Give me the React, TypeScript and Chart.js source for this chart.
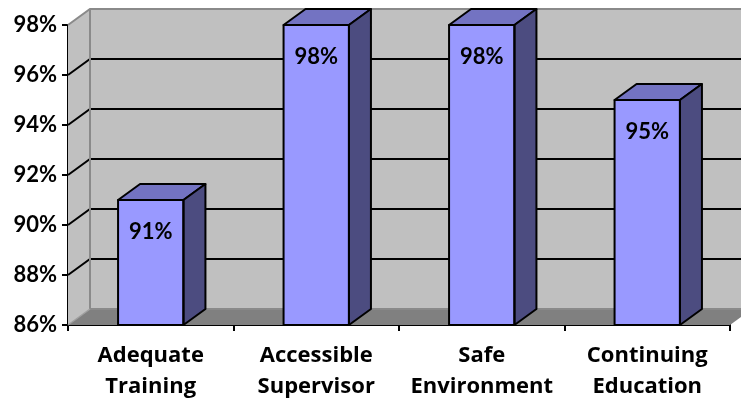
import React, { useEffect, useRef } from "react";
import { Chart, registerables } from "chart.js";

Chart.register(...registerables);

const categories: string[][] = [
  ["Adequate", "Training"],
  ["Accessible", "Supervisor"],
  ["Safe", "Environment"],
  ["Continuing", "Education"],
];
const values: number[] = [91, 98, 98, 95];
const yMin = 86;
const yMax = 98;
const yStep = 2;

const FONT = "Lato, 'Open Sans', sans-serif";
const LABEL_FONT = "'Open Sans', Lato, sans-serif";
// depth offset of the 3D box
const DX = 22;
const DY = -16;

const wallsPlugin = {
  id: "walls3d",
  beforeDatasetsDraw(chart: any) {
    const { ctx, chartArea } = chart;
    const { left: L, right: R, top: T, bottom: B } = chartArea;
    const y = chart.scales.y;
    ctx.save();
    // left side wall
    ctx.fillStyle = "#c0c0c0";
    ctx.beginPath();
    ctx.moveTo(L, T);
    ctx.lineTo(L + DX, T + DY);
    ctx.lineTo(L + DX, B + DY);
    ctx.lineTo(L, B);
    ctx.closePath();
    ctx.fill();
    // back wall
    ctx.fillRect(L + DX, T + DY, R - L + 20, B - T);
    // floor
    ctx.fillStyle = "#808080";
    ctx.beginPath();
    ctx.moveTo(L, B);
    ctx.lineTo(R, B);
    ctx.lineTo(R + DX, B + DY);
    ctx.lineTo(L + DX, B + DY);
    ctx.closePath();
    ctx.fill();
    // gridlines along side wall and back wall
    ctx.strokeStyle = "#000";
    ctx.lineWidth = 2;
    for (let v = yMin + yStep; v < yMax; v += yStep) {
      const py = y.getPixelForValue(v);
      ctx.beginPath();
      ctx.moveTo(L, py);
      ctx.lineTo(L + DX, py + DY);
      ctx.lineTo(R + DX + 20, py + DY);
      ctx.stroke();
    }
    // wall edges
    ctx.strokeStyle = "#8a8a8a";
    ctx.beginPath();
    ctx.moveTo(L, T);
    ctx.lineTo(L + DX, T + DY);
    ctx.lineTo(R + DX + 20, T + DY);
    ctx.moveTo(L + DX, T + DY);
    ctx.lineTo(L + DX, B + DY);
    ctx.lineTo(R + DX + 20, B + DY);
    ctx.stroke();
    ctx.strokeStyle = "#a0a0a0";
    ctx.lineWidth = 1.5;
    ctx.beginPath();
    ctx.moveTo(L, B);
    ctx.lineTo(L + DX, B + DY);
    ctx.stroke();
    ctx.restore();
  },
};

const barFacesPlugin = {
  id: "barFaces3d",
  afterDatasetsDraw(chart: any) {
    const { ctx, chartArea } = chart;
    const meta = chart.getDatasetMeta(0);
    ctx.save();
    ctx.lineWidth = 2;
    ctx.strokeStyle = "#000";
    ctx.lineJoin = "round";
    meta.data.forEach((bar: any, i: number) => {
      const p = bar.getProps(["x", "y", "base", "width"], true);
      const x = p.x;
      const y = p.y;
      const width = p.width;
      const base = Math.min(p.base, chartArea.bottom);
      const l = x - width / 2;
      const r = x + width / 2;
      // top face
      ctx.fillStyle = "#7373c2";
      ctx.beginPath();
      ctx.moveTo(l, y);
      ctx.lineTo(r, y);
      ctx.lineTo(r + DX, y + DY);
      ctx.lineTo(l + DX, y + DY);
      ctx.closePath();
      ctx.fill();
      ctx.stroke();
      // side face
      ctx.fillStyle = "#4c4c80";
      ctx.beginPath();
      ctx.moveTo(r, y);
      ctx.lineTo(r + DX, y + DY);
      ctx.lineTo(r + DX, base + DY);
      ctx.lineTo(r, base);
      ctx.closePath();
      ctx.fill();
      ctx.stroke();
      // front outline
      ctx.strokeRect(l, y, width, base - y);
      // value label
      ctx.fillStyle = "#000";
      ctx.font = `bold 22px ${FONT}`;
      ctx.textAlign = "center";
      ctx.textBaseline = "middle";
      ctx.fillText(`${values[i]}%`, x, y + 32);
    });
    ctx.restore();
  },
};

export default function App() {
  const ref = useRef<HTMLCanvasElement | null>(null);

  useEffect(() => {
    document.body.style.margin = "0";
    const chart = new Chart(ref.current as HTMLCanvasElement, {
      type: "bar",
      data: {
        labels: categories,
        datasets: [
          {
            data: values,
            backgroundColor: "#9999ff",
            borderWidth: 0,
            barPercentage: 1,
            categoryPercentage: 0.395,
          },
        ],
      },
      options: {
        animation: false,
        responsive: false,
        devicePixelRatio: 1,
        layout: { padding: { top: 25, right: 11, left: 0, bottom: 0 } },
        plugins: { legend: { display: false }, tooltip: { enabled: false } },
        scales: {
          x: {
            afterFit: (s: any) => {
              s.height = 80;
            },
            grid: {
              offset: true,
              drawOnChartArea: false,
              color: "#000",
              lineWidth: 2,
              tickLength: 6,
            },
            border: { color: "#000", width: 2 },
            ticks: {
              color: "#000",
              font: { family: LABEL_FONT, size: 22, weight: "bold", lineHeight: 1.38 },
              padding: 10,
              maxRotation: 0,
              autoSkip: false,
            },
          },
          y: {
            min: yMin,
            max: yMax,
            afterFit: (s: any) => {
              s.width = 68;
            },
            grid: {
              drawOnChartArea: false,
              color: "#000",
              lineWidth: 2,
              tickLength: 6,
            },
            border: { color: "#000", width: 2 },
            ticks: {
              stepSize: yStep,
              color: "#000",
              padding: 5,
              font: { family: FONT, size: 22, weight: "bold" },
              callback: (v: any) => `${v}%`,
            },
          },
        },
      },
      plugins: [wallsPlugin, barFacesPlugin],
    });
    return () => chart.destroy();
  }, []);

  return (
    <div style={{ position: "absolute", left: 0, top: 0, width: 741, height: 405, background: "#fff" }}>
      <canvas ref={ref} width={741} height={405} />
    </div>
  );
}
